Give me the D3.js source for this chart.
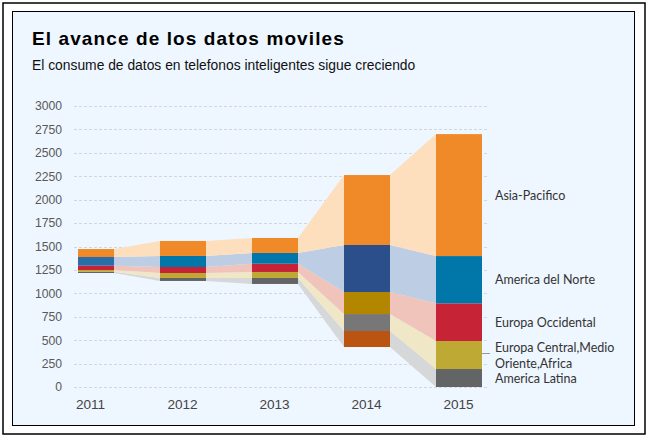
<!DOCTYPE html>
<html>
<head>
<meta charset="utf-8">
<script src="https://cdn.jsdelivr.net/npm/d3@7"></script>
<style>
  html, body { margin: 0; padding: 0; background: #ffffff; }
  svg { display: block; }
</style>
</head>
<body>
<svg id="chart" width="651" height="439"></svg>
<script>
// ---- data ----
const years = ["2011", "2012", "2013", "2014", "2015"];
const baseOffset = [1217, 1132, 1100, 427, 0];           // invisible base
const americaLatina = [14, 32, 64, 171, 192];
const europaCentral = [18, 53, 64, 181, 299];
const europaOccidental = [46, 64, 88, 235, 402];
const americaNorte = [93, 118, 115, 502, 505];
const asiaPacifico = [85, 160, 160, 747, 1302];
const yTicks = [0, 250, 500, 750, 1000, 1250, 1500, 1750, 2000, 2250, 2500, 2750, 3000];
const seriesNames = ["America Latina", "Europa Central,Medio Oriente,Africa", "Europa Occidental", "America del Norte", "Asia-Pacifico"];

// styles
const series = [
  { name: seriesNames[0], values: americaLatina, color: "#636466", band: "#D6D7D9",
    pointColors: { "2014": "#BA5410" } },
  { name: seriesNames[1], values: europaCentral, color: "#BFA935", band: "#F0E7C7",
    pointColors: { "2014": "#777777" } },
  { name: seriesNames[2], values: europaOccidental, color: "#C62337", band: "#F0C3BB",
    pointColors: { "2014": "#B38600" } },
  { name: seriesNames[3], values: americaNorte, color: "#0077A8", band: "#BDCDE3",
    pointColors: { "2011": "#2B6CAB", "2014": "#2B4F8B" } },
  { name: seriesNames[4], values: asiaPacifico, color: "#F08A28", band: "#FDDFBE",
    pointColors: {} }
];

const svg = d3.select("#chart");

// frame
svg.append("rect").attr("x", 3).attr("y", 3).attr("width", 642).attr("height", 431)
  .attr("fill", "#ffffff").attr("stroke", "#000").attr("stroke-width", 1.5);
svg.append("rect").attr("x", 12.5).attr("y", 11.5).attr("width", 622).attr("height", 414)
  .attr("fill", "#EEF6FF").attr("stroke", "#000").attr("stroke-width", 1);

// title
svg.append("text").attr("x", 32).attr("y", 45)
  .attr("font-family", "Liberation Sans, Arial, sans-serif").attr("font-weight", "bold")
  .attr("font-size", 19).attr("letter-spacing", 1.1).attr("fill", "#000")
  .text("El avance de los datos moviles");
svg.append("text").attr("x", 32).attr("y", 70)
  .attr("font-family", "Liberation Sans, Arial, sans-serif")
  .attr("font-size", 13.85).attr("fill", "#111")
  .text("El consume de datos en telefonos inteligentes sigue creciendo");

// scales
const y = d3.scaleLinear().domain([0, 3000]).range([387, 106]);
const x = d3.scalePoint().domain(years).range([91, 459]);
const barW = 46;

// grid
const grid = svg.append("g");
grid.selectAll("line").data(yTicks).join("line")
  .attr("x1", 74).attr("x2", 487)
  .attr("y1", d => Math.round(y(d)) + 0.5).attr("y2", d => Math.round(y(d)) + 0.5)
  .attr("stroke", "#D3D6DA").attr("stroke-width", 1).attr("stroke-dasharray", "3,2");

// y axis labels via d3 axis
const yAxis = d3.axisLeft(y).tickValues(yTicks).tickSize(0).tickPadding(0).tickFormat(d3.format("d"));
const yg = svg.append("g").attr("transform", "translate(62,0)").call(yAxis);
yg.select(".domain").remove();
yg.selectAll("text").attr("font-family", "Liberation Sans, Arial, sans-serif")
  .attr("font-size", 12.2).attr("fill", "#595959");

// x axis labels
const xAxis = d3.axisBottom(x).tickSize(0).tickPadding(0);
const xg = svg.append("g").attr("transform", "translate(0,399)").call(xAxis);
xg.select(".domain").remove();
xg.selectAll("text").attr("font-family", "Liberation Sans, Arial, sans-serif")
  .attr("font-size", 13.6).attr("fill", "#444").attr("dx", -1);

// stack computation
const rows = years.map((yr, i) => {
  const r = { year: yr, base: baseOffset[i] };
  series.forEach(s => { r[s.name] = s.values[i]; });
  return r;
});
const stack = d3.stack().keys(["base", ...seriesNames]);
const stacked = stack(rows).slice(1); // drop base layer

// clip
svg.append("clipPath").attr("id", "plotclip").append("rect")
  .attr("x", 78).attr("y", 90).attr("width", 420).attr("height", 310);
const plot = svg.append("g").attr("clip-path", "url(#plotclip)");

// connector bands
stacked.forEach((layer, si) => {
  const s = series[si];
  for (let i = 0; i < years.length - 1; i++) {
    const a = layer[i], b = layer[i + 1];
    const x0 = x(years[i]) + barW / 2, x1 = x(years[i + 1]) - barW / 2;
    const pts = [[x0, y(a[1])], [x1, y(b[1])], [x1, y(b[0])], [x0, y(a[0])]];
    plot.append("path").attr("d", "M" + pts.map(p => p.join(",")).join("L") + "Z")
      .attr("fill", s.band);
  }
});

// bars
stacked.forEach((layer, si) => {
  const s = series[si];
  plot.append("g").selectAll("rect").data(layer).join("rect")
    .attr("x", d => x(d.data.year) - barW / 2)
    .attr("width", barW)
    .attr("y", d => y(d[1]))
    .attr("height", d => y(d[0]) - y(d[1]))
    .attr("fill", d => s.pointColors[d.data.year] || s.color);
});

// right labels
const last = years.length - 1;
const labelX = 495;
const labelFont = "Lato, 'Open Sans', sans-serif";
const labelGroup = svg.append("g").attr("font-family", labelFont).attr("font-size", 12.5).attr("fill", "#333");
stacked.forEach((layer, si) => {
  const d = layer[last];
  const mid = y((d[0] + d[1]) / 2);
  const name = series[si].name;
  if (name.indexOf(",Medio") >= 0) {
    const t = labelGroup.append("text").attr("x", labelX).attr("y", mid - 3);
    t.append("tspan").attr("x", labelX).attr("dy", 0).text("Europa Central,Medio");
    t.append("tspan").attr("x", labelX).attr("dy", 16).text("Oriente,Africa");
    svg.append("line").attr("x1", 482).attr("x2", 490).attr("y1", mid - 1.5).attr("y2", mid - 1.5)
      .attr("stroke", "#999").attr("stroke-width", 1);
  } else {
    labelGroup.append("text").attr("x", labelX).attr("y", mid + 4.5).text(name);
  }
});
</script>
</body>
</html>
